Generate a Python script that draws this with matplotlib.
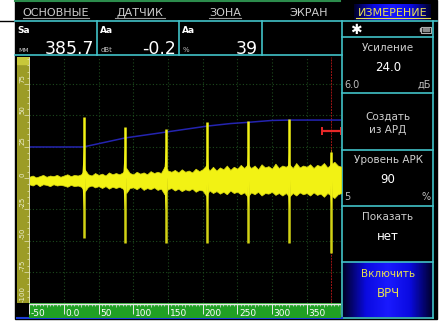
import matplotlib.pyplot as plt
import numpy as np
from matplotlib.colors import LinearSegmentedColormap
from matplotlib.patches import Rectangle

W, H = 441, 322

# A-scan: range in mm, amplitude in % of screen height
noise_x = list(range(-50, 401, 5))
noise_upper = [1, 2, 0.5, 1.5, 2.5, 1, 2, 1.5, 2.5, 1,
               2, 3, 1.5, 2.5, 2, 3, 7, 3, 2, 4,
               2.5, 3.5, 2, 4.5, 3, 4, 3, 4.5, 8, 4,
               3, 5, 3.5, 4.5, 3, 5.5, 4, 5, 4, 9,
               6, 5, 6.5, 4.5, 7, 5, 6, 4.5, 7.5, 5.5,
               7, 10, 6, 9, 6, 8.5, 7, 10, 6.5, 9,
               7.5, 10.5, 8, 11, 8, 10, 7, 11, 8.5, 9.5,
               7.5, 11.5, 8, 10, 9, 11, 8, 12, 8.5, 10,
               9, 11, 8, 10.5, 9.5, 12, 8.5, 11, 13, 10,
               9]
noise_lower = [-5, -6, -4.5, -6.5, -5, -5.5, -6.5, -5, -6, -5.5,
               -6, -7, -5.5, -6.5, -6, -7, -11, -7, -6, -7.5,
               -6.5, -8, -6.5, -8.5, -7, -8, -7, -8.5, -12, -8,
               -7.5, -9, -7, -9.5, -8, -9, -7.5, -9.5, -8.5, -13,
               -9, -8, -10, -8.5, -10.5, -9, -10, -8.5, -11, -9.5,
               -10, -14, -10, -12, -10.5, -12.5, -11, -13, -10, -12,
               -11, -13, -11.5, -15, -11.5, -13, -11, -14, -12, -12.5,
               -11, -13.5, -12, -14, -12, -15, -12, -14, -11.5, -13,
               -12, -14, -11.5, -13.5, -12.5, -15, -12, -14, -16, -13,
               -12]
echo_pos = [29, 88, 147, 207, 266, 325, 385.7]
echo_top = [49, 41, 39, 45, 45.5, 47, 21]
echo_bottom = [-48, -52, -52, -52, -52, -52, -60]

dac_x = [-50, 28, 88, 147, 207, 240, 266, 300, 325, 360, 400]
dac_y = [24.8, 24.8, 32, 36.7, 41.5, 43.5, 44.5, 46, 46.3, 46.3, 46.3]

gate_start, gate_end, gate_level = 372.5, 400, 37.5
sa_value = 385.7

range_ticks = [-50, 0, 50, 100, 150, 200, 250, 300, 350]
range_labels = ['-50', '0.0', '50', '100', '150', '200', '250', '300', '350']
amp_ticks = [75, 50, 25, 0, -25, -50, -75, -100]

tabs = ['ОСНОВНЫЕ', 'ДАТЧИК', 'ЗОНА', 'ЭКРАН', 'ИЗМЕРЕНИЕ']
tab_x = [56, 140, 225, 309, 393]
readings = [('Sa', 'мм', '385.7'), ('Aa', 'dBt', '-0.2'), ('Aa', '%', '39')]

TEAL = '#42c2c8'
GREY = '#cfcfcf'
YELLOW = '#f2f214'


def px_axes(fig, x0, y0, x1, y1, **kw):
    return fig.add_axes([x0 / W, 1 - y1 / H, (x1 - x0) / W, (y1 - y0) / H], **kw)


fig = plt.figure(figsize=(W / 100, H / 100), dpi=100)
ui = fig.add_axes([0, 0, 1, 1])
ui.axis('off')

# screen body
ui.add_patch(Rectangle((15, 0), 422, 319, color='black'))
ui.plot([0, 15], [20.5, 20.5], color='black', lw=1)
ui.plot([15, 340], [0.8, 0.8], color='#2c8c4c', lw=1.5)

blue_grad = LinearSegmentedColormap.from_list('btn', ['#00002a', '#0a0ae0', '#1a1aff', '#0a0ae0', '#00002a'])
grad = np.linspace(0, 1, 64).reshape(1, -1)

# tab row
ui.imshow(grad, cmap=blue_grad, extent=(354, 431, 19.5, 3.5), aspect='auto', zorder=1)
for i, (name, x) in enumerate(zip(tabs, tab_x)):
    col = '#e8e050' if i == 4 else GREY
    ui.text(x, 15.5, name, color=col, fontsize=8, ha='center', va='baseline', zorder=2)
    if i != 3:
        half = len(name) * 4.1
        ui.plot([x - half, x + half], [17.6, 17.6], color='#e8e050' if i == 4 else '#9a9a9a',
                lw=0.8, zorder=2)
ui.plot([15, 437], [21.3, 21.3], color=TEAL, lw=1.2)

# reading boxes
for x in [97, 179, 262]:
    ui.plot([x, x], [21.3, 55], color=TEAL, lw=1.2)
ui.plot([15, 342], [55.2, 55.2], color=TEAL, lw=1.2)
for (name, unit, val), x0, x1 in zip(readings, [17, 100, 182], [94, 176, 258]):
    ui.text(x0, 32.5, name, color='white', fontsize=6.5, fontweight='bold', va='baseline')
    ui.text(x0 + 1, 52, unit, color='#bdbdbd', fontsize=5, va='baseline')
    ui.text(x1, 53.5, val, color='white', fontsize=12.5, ha='right', va='baseline')

# side menu
ui.plot([342, 342], [21.3, 318], color=TEAL, lw=1.2)
ui.plot([433, 433], [21.3, 318], color=TEAL, lw=1.2)
for y in [37, 93, 149.5, 206, 262, 318]:
    ui.plot([342, 433], [y, y], color=TEAL, lw=1.2)
ui.text(356, 34, '✱', color='white', fontsize=10, ha='center', va='baseline', fontweight='bold')
ui.add_patch(Rectangle((421, 26.5), 9.5, 6, fill=False, ec='#b0b0b0', lw=0.8))
ui.add_patch(Rectangle((419.5, 28.3), 1.5, 2.5, color='#b0b0b0'))
ui.add_patch(Rectangle((422.5, 28), 6.5, 3, color='#8a8a8a'))

ui.text(388, 51, 'Усиление', color=GREY, fontsize=7.5, ha='center', va='baseline')
ui.text(388, 71, '24.0', color='white', fontsize=8.5, ha='center', va='baseline')
ui.text(344, 88, '6.0', color='#bdbdbd', fontsize=7, va='baseline')
ui.text(431, 88, 'дБ', color='#bdbdbd', fontsize=7, ha='right', va='baseline')

ui.text(388, 120, 'Создать', color=GREY, fontsize=7.5, ha='center', va='baseline')
ui.text(388, 133, 'из АРД', color=GREY, fontsize=7.5, ha='center', va='baseline')

ui.text(388, 163, 'Уровень АРК', color=GREY, fontsize=7.5, ha='center', va='baseline')
ui.text(388, 183, '90', color='white', fontsize=8.5, ha='center', va='baseline')
ui.text(344, 200, '5', color='#bdbdbd', fontsize=7, va='baseline')
ui.text(431, 200, '%', color='#bdbdbd', fontsize=7, ha='right', va='baseline')

ui.text(388, 220, 'Показать', color=GREY, fontsize=7.5, ha='center', va='baseline')
ui.text(388, 240, 'нет', color='white', fontsize=8.5, ha='center', va='baseline')

ui.imshow(grad, cmap=blue_grad, extent=(343, 432.5, 317.5, 262.5), aspect='auto', zorder=1)
ui.text(388, 277, 'Включить', color='#e8e050', fontsize=7.5, ha='center', va='baseline', zorder=2)
ui.text(388, 297, 'ВРЧ', color='#e8e050', fontsize=8.5, ha='center', va='baseline', zorder=2)

# bottom edge of the scan area
ui.plot([17, 342], [318.3, 318.3], color='#1a3cd8', lw=1.5)
ui.set_xlim(0, W)
ui.set_ylim(H, 0)

# A-scan window
ax = px_axes(fig, 29.2, 56.6, 341.3, 303.2)
ax.set_facecolor('black')
ax.set_xlim(-50, 400)
ax.set_ylim(-100, 97)
ax.set_xticks([])
ax.set_yticks([])
for s in ax.spines.values():
    s.set_visible(False)
ax.vlines(range(0, 351, 50), -100, 97, color='#1d4a1d', lw=0.8, ls=(0, (1, 2)))
ax.hlines(range(-75, 76, 25), -50, 400, color='#1d4a1d', lw=0.8, ls=(0, (1, 2)))

# measurement cursor sits behind the trace
ax.axvline(sa_value, color='#a01414', lw=0.7, ls=(0, (2, 1)), zorder=1)

ax.plot(dac_x, dac_y, color='#2424b0', lw=1.1, zorder=2)
ax.fill_between(noise_x, noise_lower, noise_upper, color=YELLOW, lw=0.5, ec='#d8d810', zorder=3)
for p, top, bot in zip(echo_pos, echo_top, echo_bottom):
    ax.vlines(p, 0, top, color=YELLOW, lw=1.8, zorder=3)
    ax.vlines(p, bot, 0, color='#d2d214', lw=1.8, zorder=3)
    ax.fill([p - 2.6, p, p + 2.6, p], [0, 24, 0, -26], color=YELLOW, lw=0, zorder=3)

ax.hlines(gate_level, gate_start, gate_end, color='#e82828', lw=1.6, zorder=4)
ax.vlines([gate_start, gate_end - 0.5], gate_level - 3.5, gate_level + 3.5, color='#e82828',
          lw=1.4, zorder=4)

# amplitude ruler
ra = px_axes(fig, 17, 56.6, 30, 303.2)
ra.set_xlim(0, 1)
ra.set_ylim(-100, 97)
ra.axis('off')
ra.add_patch(Rectangle((0, -100), 1, 197, color='#9c9c26'))
ra.add_patch(Rectangle((0, 91), 1, 6, color='#c8c83a'))
ra.vlines(0.95, -100, 97, color='#e0e0b0', lw=0.7)
for v in range(-100, 96, 5):
    ra.hlines(v, 0.78 if v % 25 else 0.55, 0.95, color='#e6e6c0', lw=0.5)
for v in amp_ticks:
    ra.text(0.42, v + 1, str(v), rotation=90, fontsize=5, color='#eeeed0',
            ha='center', va='bottom')

# range ruler
rb = px_axes(fig, 29.2, 303.2, 341.3, 317.5)
rb.set_xlim(-50, 400)
rb.set_ylim(14.3, 0)
rb.axis('off')
rb.add_patch(Rectangle((-50, 0), 450, 14.3, color='#20a024'))
rb.hlines(0.6, -50, 399, color='#e8e8e8', lw=1)
for v in range(-50, 400, 5):
    rb.vlines(v, 0.6, 2.5 if v % 25 else 3.5, color='#e8e8e8', lw=0.5)
rb.vlines(range_ticks, 0.6, 11, color='#e8e8e8', lw=0.7)
rb.vlines(399, 0.6, 11, color='#e8e8e8', lw=0.9)
for v, lab in zip(range_ticks, range_labels):
    rb.text(v + 2.5, 12.5, lab, color='white', fontsize=6.5, ha='left', va='baseline')

fig.savefig('out.png', dpi=100, facecolor='white')
